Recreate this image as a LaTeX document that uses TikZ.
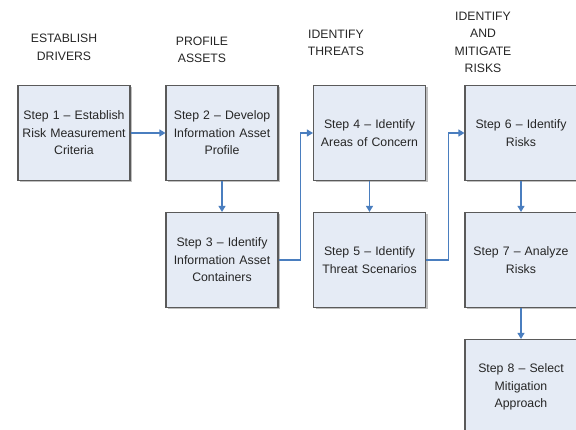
\documentclass[tikz,border=0pt]{standalone}
\usepackage{fontspec}
\setmainfont{Liberation Sans}
\usetikzlibrary{arrows.meta}
\definecolor{boxfill}{HTML}{E5EBF5}
\definecolor{boxline}{HTML}{5A5A5A}
\definecolor{arrowblue}{HTML}{4A7EBF}
\tikzset{
  x=1pt, y=1pt,
  stepbox/.style={draw=boxline, line width=1.1pt, fill=boxfill, rectangle,
    minimum width=112pt, minimum height=95pt, inner sep=2pt, align=center,
    text width=108pt, font=\fontsize{12.3}{17.5}\selectfont, text=black!85},
  heading/.style={align=center, font=\fontsize{12.2}{17.5}\selectfont, text=black!85},
  conn/.style={draw=arrowblue, line width=1.1pt, -{Triangle[length=6pt,width=7pt]}}
}
\begin{document}
\begin{tikzpicture}
\useasboundingbox (0,0) rectangle (576,-430);
\fill[white] (0,0) rectangle (576,-430);
\clip (0,0) rectangle (576,-430);
% headings
\node[heading] (h1) at (64,-47.5) {ESTABLISH\\DRIVERS};
\node[heading] (h2) at (202,-50) {PROFILE\\ASSETS};
\node[heading] (h3) at (336,-43) {IDENTIFY\\THREATS};
\node[heading] (h4) at (483,-42.5) {IDENTIFY\\AND\\MITIGATE\\RISKS};
% shadows
\foreach \cx/\cy in {74/-133,222/-133,222/-260,369.5/-133,369.5/-260,521/-133,521/-260,521/-387}
  \fill[black!25] (\cx-54,\cy-49.5) rectangle (\cx+58,\cy+45.5);
% boxes
\node[stepbox] (s1) at (74,-133) {Step 1 -- Establish\\Risk Measurement\\Criteria};
\node[stepbox] (s2) at (222,-133) {Step 2 -- Develop\\Information Asset\\Profile};
\node[stepbox] (s3) at (222,-260) {Step 3 -- Identify\\Information Asset\\Containers};
\node[stepbox] (s4) at (369.5,-133) {Step 4 -- Identify\\Areas of Concern};
\node[stepbox] (s5) at (369.5,-260) {Step 5 -- Identify\\Threat Scenarios};
\node[stepbox] (s6) at (521,-133) {Step 6 -- Identify\\Risks};
\node[stepbox] (s7) at (521,-260) {Step 7 -- Analyze\\Risks};
\node[stepbox] (s8) at (521,-387) {Step 8 -- Select\\Mitigation\\Approach};
% connectors
\draw[conn] (s1.east) -- (s2.west);
\draw[conn] (s2.south) -- (s3.north);
\draw[conn] (s3.east) -- ++(22,0) |- (s4.west);
\draw[conn] (s4.south) -- (s5.north);
\draw[conn] (s5.east) -- ++(22,0) |- (s6.west);
\draw[conn] (s6.south) -- (s7.north);
\draw[conn] (s7.south) -- (s8.north);
\end{tikzpicture}
\end{document}
